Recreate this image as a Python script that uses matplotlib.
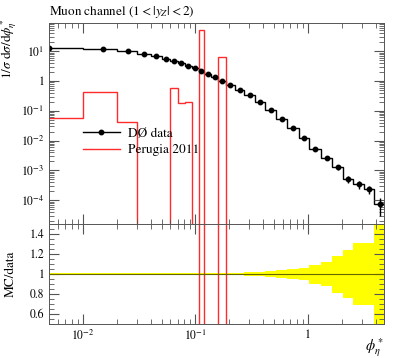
import numpy as np
import matplotlib
matplotlib.use("Agg")
import matplotlib.pyplot as plt
from matplotlib.ticker import FuncFormatter, LogLocator, MultipleLocator, NullFormatter, FixedLocator
from matplotlib.lines import Line2D

plt.rcParams['font.family'] = ['STIXGeneral', 'DejaVu Serif']
plt.rcParams['mathtext.fontset'] = 'stix'

# ---- data ----
bin_edges = [0.0, 0.01, 0.02, 0.03, 0.04, 0.05, 0.06, 0.07, 0.0805, 0.0924,
             0.107, 0.119, 0.138, 0.16, 0.186, 0.224, 0.27, 0.336, 0.42, 0.524,
             0.65, 0.826, 1.03, 1.30, 1.63, 2.05, 2.53, 3.15, 3.9, 4.9]
data_values = [13.1, 12.1, 10.4, 8.05, 7.0, 5.47, 4.69, 3.93, 3.19, 2.67,
               2.17, 1.76, 1.39, 1.02, 0.75, 0.50, 0.33, 0.20, 0.109, 0.054,
               0.027, 0.0126, 0.0054, 0.0027, 0.0013, 5.1e-4, 3.4e-4, 2.3e-4, 7.3e-5]
data_rel_err = [0.008, 0.008, 0.008, 0.008, 0.008, 0.008, 0.008, 0.008, 0.008, 0.009,
                0.009, 0.010, 0.010, 0.011, 0.011, 0.012, 0.017, 0.020, 0.027, 0.037,
                0.050, 0.060, 0.095, 0.118, 0.185, 0.243, 0.31, 0.31, 0.60]
mc_values = [0.056, 0.44, 0.042, 0.0, 0.0, 0.0, 0.6, 0.187, 0.205, 0.0,
             51.0, 0.0, 0.0, 6.4, 0.0, 0.0, 0.0, 0.0, 0.0, 0.0,
             0.0, 0.0, 0.0, 0.0, 0.0, 0.0, 0.0, 0.0, 0.0]

main_yticks = [1e-4, 1e-3, 1e-2, 1e-1, 1, 10]
ratio_yticks = [0.6, 0.8, 1.0, 1.2, 1.4]
xticks = [0.01, 0.1, 1]

title = r"Muon channel ($1 < |y_Z| < 2$)"
data_label = "DØ data"
mc_label = "Perugia 2011"
ylabel_main = r"$1/\sigma\ \mathrm{d}\sigma/\mathrm{d}\phi^*_\eta$"
ylabel_ratio = "MC/data"
xlabel = r"$\phi^*_\eta$"

edges = np.array(bin_edges)
dv = np.array(data_values)
de = np.array(data_rel_err)
mv = np.array(mc_values)
centers = 0.5 * (edges[:-1] + edges[1:])

W, H = 397, 358
fig = plt.figure(figsize=(W / 100, H / 100), dpi=100)
L, R = 49, 384
T, M, B = 23, 224, 324
ax = fig.add_axes([L / W, 1 - M / H, (R - L) / W, (M - T) / H])
axr = fig.add_axes([L / W, 1 - B / H, (R - L) / W, (B - M) / H], sharex=ax)

RED = '#ff2a2a'
floor = 1e-12
ax.stairs(dv, edges, color='black', lw=1.0, baseline=None)
ax.errorbar(centers, dv, yerr=dv * de, fmt='o', color='black', ms=3.2,
            elinewidth=1.0, capsize=0)
ax.stairs(np.where(mv > 0, mv, floor), edges, color=RED, lw=1.0, baseline=None)

ax.set_xscale('log')
ax.set_yscale('log')
ax.set_xlim(0.005, 4.75)
ax.set_ylim(1.6e-5, 88)

h1 = Line2D([], [], color='black', lw=1.0, marker='o', ms=3.2)
h2 = Line2D([], [], color=RED, lw=1.0)
ax.legend([h1, h2], [data_label, mc_label], loc='upper left',
          bbox_to_anchor=(0.085, 0.505), frameon=False, fontsize=9.5,
          handlelength=2.8, handletextpad=0.6, labelspacing=0.3,
          borderaxespad=0)

def logfmt(v, pos):
    if v <= 0:
        return ""
    e = int(round(np.log10(v)))
    if e == 0:
        return "1"
    return r"$10^{%d}$" % e

for a in (ax, axr):
    a.tick_params(which='both', direction='in', top=True, right=True,
                  labelsize=8.5, color='#555555')
    a.tick_params(which='major', length=7)
    a.tick_params(which='minor', length=3.5)
    for s in a.spines.values():
        s.set_linewidth(0.7)
        s.set_color('#555555')

ax.yaxis.set_major_locator(FixedLocator(main_yticks))
ax.yaxis.set_minor_locator(LogLocator(base=10, subs=np.arange(2, 10), numticks=20))
ax.yaxis.set_major_formatter(FuncFormatter(logfmt))
ax.yaxis.set_minor_formatter(NullFormatter())
ax.tick_params(axis='x', labelbottom=False)

ratio_mc = np.where(dv > 0, mv / dv, 0)
axr.stairs(1 + de, edges, baseline=1 - de, fill=True, color='#ffff00', lw=0)
axr.axhline(1.0, color='#666600', lw=0.8)
axr.stairs(ratio_mc, edges, color=RED, lw=1.0, baseline=None)
axr.set_ylim(0.5, 1.5)
axr.yaxis.set_major_locator(FixedLocator(ratio_yticks))
axr.yaxis.set_minor_locator(MultipleLocator(0.05))
axr.yaxis.set_major_formatter(FuncFormatter(lambda v, p: "1" if abs(v - 1) < 1e-9 else ("%.1f" % v)))
axr.xaxis.set_major_locator(FixedLocator(xticks))
axr.xaxis.set_minor_locator(LogLocator(base=10, subs=np.arange(2, 10), numticks=20))
axr.xaxis.set_major_formatter(FuncFormatter(logfmt))
axr.xaxis.set_minor_formatter(NullFormatter())

fig.text(L / W, 1 - 12 / H, title, ha='left', va='center', fontsize=9.5)
fig.text(9 / W, 1 - 18 / H, ylabel_main, rotation=90, ha='center', va='top', fontsize=9.5)
fig.text(11 / W, 1 - 274 / H, ylabel_ratio, rotation=90, ha='center', va='center', fontsize=9.5)
fig.text(R / W, 1 - 348 / H, xlabel, ha='right', va='center', fontsize=10.5)

fig.savefig("out.png", dpi=100)
